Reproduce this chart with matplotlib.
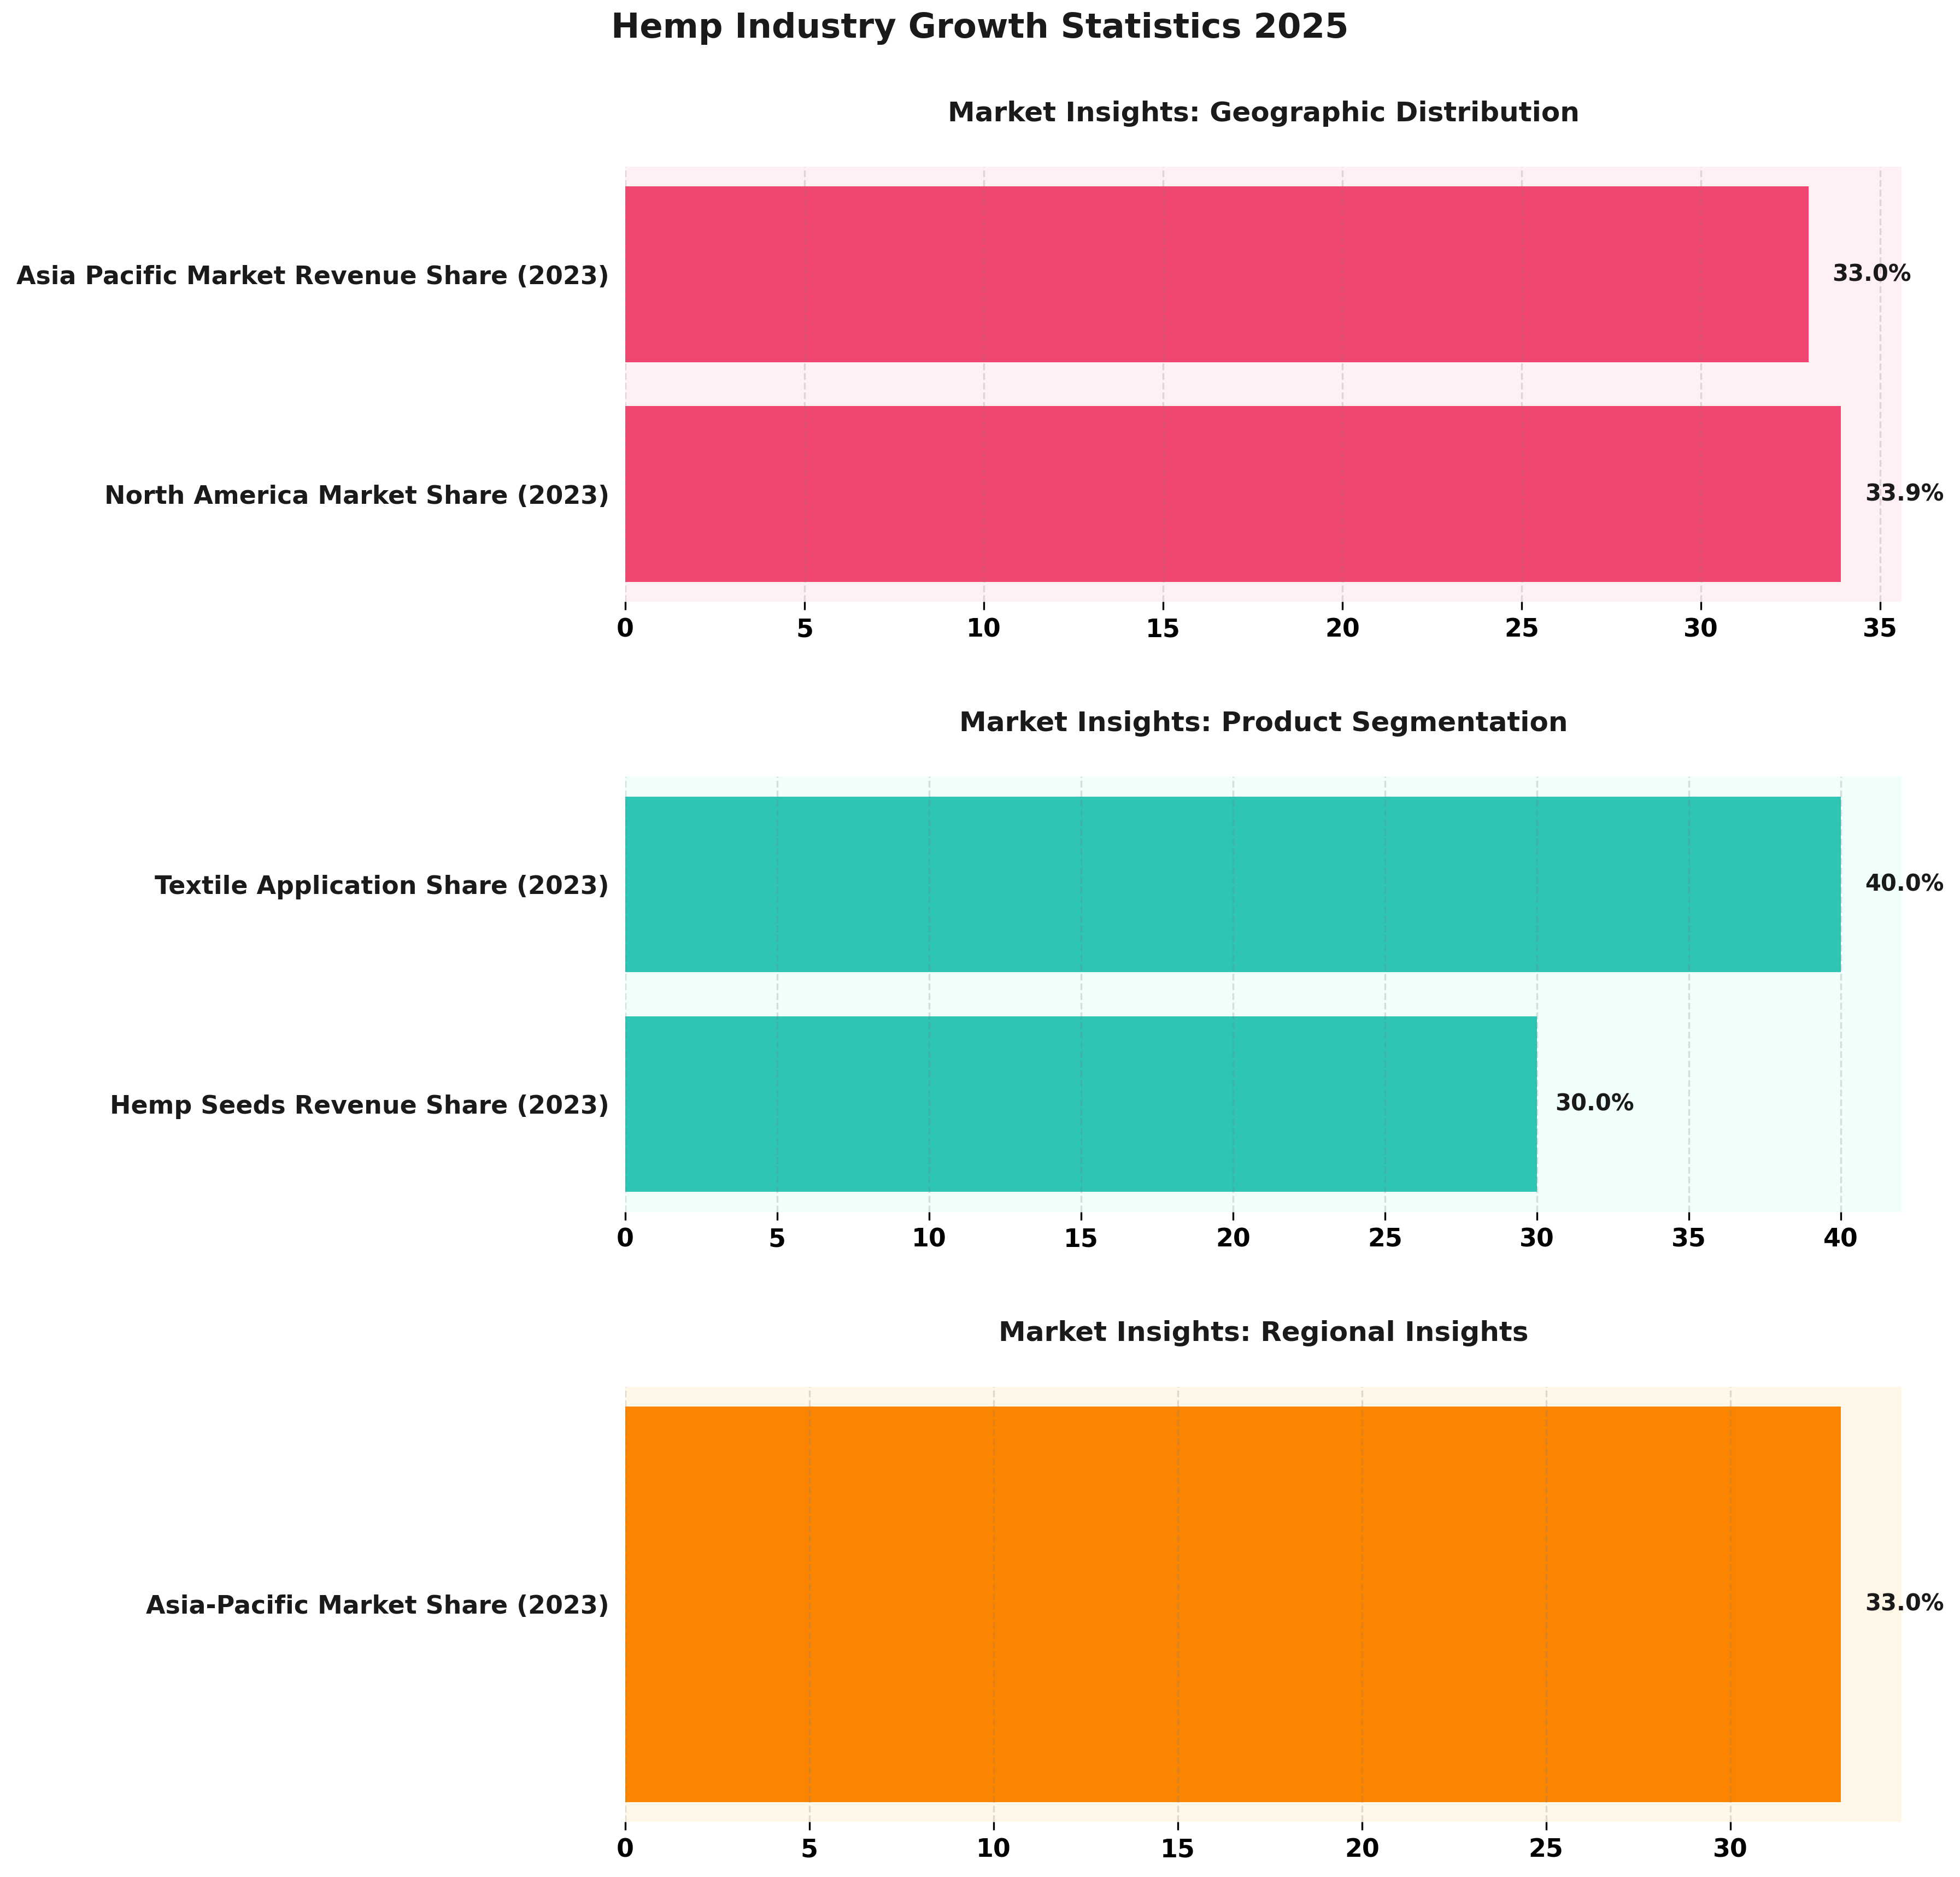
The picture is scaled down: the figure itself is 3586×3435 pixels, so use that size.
import matplotlib
matplotlib.use('Agg')
import matplotlib.pyplot as plt

# data per panel
geo_labels = ['North America Market Share (2023)', 'Asia Pacific Market Revenue Share (2023)']
geo_values = [33.9, 33.0]
prod_labels = ['Hemp Seeds Revenue Share (2023)', 'Textile Application Share (2023)']
prod_values = [30.0, 40.0]
reg_labels = ['Asia-Pacific Market Share (2023)']
reg_values = [33.0]

panels = [
    ('Market Insights: Geographic Distribution', geo_labels, geo_values, '#EF476F', '#FFF0F3'),
    ('Market Insights: Product Segmentation', prod_labels, prod_values, '#2EC4B6', '#F0FFFC'),
    ('Market Insights: Regional Insights', reg_labels, reg_values, '#FB8500', '#FFF8E8'),
]

fig, axes = plt.subplots(3, 1, figsize=(3586/300, 3435/300), dpi=300)
fig.subplots_adjust(left=0.319, right=0.9702, top=0.9112, bottom=0.0294, hspace=0.402)

for ax, (title, labels, values, color, bg) in zip(axes, panels):
    ax.set_facecolor(bg)
    ax.barh(labels, values, color=color, height=0.8)
    for i, v in enumerate(values):
        ax.text(v * 1.02, i, '{:.1f}%'.format(v), va='center', ha='left',
                fontsize=10, fontweight='bold', color='#1a1a1a')
    ax.set_title(title, fontsize=12, fontweight='bold', color='#1a1a1a', pad=20)
    ax.grid(axis='x', linestyle='--', color='gray', alpha=0.25)
    for s in ax.spines.values():
        s.set_visible(False)
    ax.tick_params(axis='y', left=False)
    plt.setp(ax.get_yticklabels(), fontsize=11, fontweight='bold', color='#1a1a1a')
    plt.setp(ax.get_xticklabels(), fontsize=11, fontweight='bold', color='black')

fig.suptitle('Hemp Industry Growth Statistics 2025', fontsize=15, fontweight='bold',
             color='#1a1a1a', y=0.985, x=0.5, va='center')

fig.savefig('out.png', dpi=300)
